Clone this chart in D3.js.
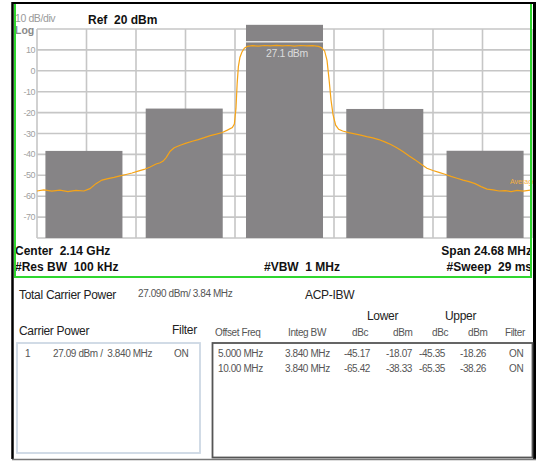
<!DOCTYPE html>
<html>
<head>
<meta charset="utf-8">
<script src="https://cdn.jsdelivr.net/npm/d3@7"></script>
<style>
  body { margin: 0; background: #fff; }
  svg { display: block; font-family: "Liberation Sans", Arial, sans-serif; }
</style>
</head>
<body>
<div id="chart"></div>
<script>
// Spectrum settings
const spanMHz = 24.68;
const refLevel = 20;
const dbPerDiv = 10;
const yTickLabels = [10, 0, -10, -20, -30, -40, -50, -60, -70];

// ACP integration bands (offset MHz) and measured power (dBm)
const bandOffsets = [-10, -5, 0, 5, 10];
const bandPowers = [-38.33, -18.07, 27.09, -18.26, -38.26];
const bandWidth = 3.84;

// Trace (offset MHz, dBm)
const traceFreq = [-12.34, -12.0, -11.6, -11.2, -10.8, -10.4, -10.0, -9.7, -9.4, -9.1,
  -8.8, -8.5, -8.2, -7.9, -7.6, -7.3, -7.0, -6.7, -6.4, -6.2, -6.05, -5.9, -5.7, -5.5,
  -5.2, -4.9, -4.6, -4.3, -4.0, -3.7, -3.4, -3.1, -2.85, -2.6, -2.5, -2.42, -2.36, -2.3,
  -2.22, -2.12, -2.0, -1.85, -1.6, -1.3, -1.0, -0.7, -0.4, -0.1, 0.2, 0.5, 0.8, 1.1, 1.4,
  1.7, 1.85, 2.0, 2.12, 2.22, 2.32, 2.42, 2.55, 2.7, 2.9, 3.2, 3.5, 3.8, 4.1, 4.4, 4.7,
  5.0, 5.3, 5.6, 5.9, 6.2, 6.5, 6.8, 7.1, 7.4, 7.7, 8.0, 8.3, 8.6, 8.9, 9.2, 9.5, 9.8,
  10.1, 10.4, 10.7, 11.0, 11.3, 11.6, 11.9, 12.34];
const traceLevel = [-57.5, -57.0, -57.6, -57.1, -57.8, -57.2, -57.5, -56.4, -54.0, -52.3,
  -51.6, -51.0, -50.3, -49.6, -48.9, -48.0, -47.2, -46.0, -44.6, -44.0, -43.2, -41.5, -38.5, -36.8,
  -35.6, -34.6, -33.7, -32.9, -32.0, -31.0, -30.3, -29.5, -28.4, -27.2, -25.5, -18, -6, 2,
  6.5, 9.0, 10.8, 11.7, 12.0, 11.8, 12.1, 11.9, 12.2, 11.9, 12.1, 11.8, 12.1, 11.9, 12.0,
  11.7, 11.0, 9.5, 5, -4, -14, -21, -26, -28, -28.8, -29.6, -30.2, -30.8, -31.5, -32.1, -32.9,
  -34.0, -35.3, -36.8, -38.6, -40.6, -42.5, -44.6, -46.6, -47.7, -48.6, -49.5, -50.5, -51.4, -52.3, -53.0, -54.0, -55.4,
  -56.6, -57.0, -57.5, -57.3, -57.8, -57.2, -57.6, -57.0];

// Result tables
const carrierRow = ['1', '27.09 dBm /  3.840 MHz', 'ON'];
const offsetFreqs = ['5.000 MHz', '10.00 MHz'];
const integBWs = ['3.840 MHz', '3.840 MHz'];
const lowerDbc = ['-45.17', '-65.42'];
const lowerDbm = ['-18.07', '-38.33'];
const upperDbc = ['-45.35', '-65.35'];
const upperDbm = ['-18.26', '-38.26'];
const filters = ['ON', 'ON'];

const width = 537, height = 461;
const plot = { left: 37, right: 532, top: 29, bottom: 238 };

const svg = d3.select('#chart').append('svg')
  .attr('width', width)
  .attr('height', height);

const x = d3.scaleLinear()
  .domain([-spanMHz / 2, spanMHz / 2])
  .range([plot.left, plot.right]);

const y = d3.scaleLinear()
  .domain([refLevel - 10 * dbPerDiv, refLevel])
  .range([plot.bottom, plot.top]);

const gray = '#868486';
const gridColor = '#c6c6c6';

// Grid
const gridG = svg.append('g');
gridG.selectAll('.vgrid')
  .data(d3.range(11))
  .enter().append('line')
  .attr('x1', i => x(-spanMHz / 2 + i * spanMHz / 10))
  .attr('x2', i => x(-spanMHz / 2 + i * spanMHz / 10))
  .attr('y1', plot.top)
  .attr('y2', plot.bottom)
  .attr('stroke', gridColor)
  .attr('stroke-width', 1.6);

gridG.selectAll('.hgrid')
  .data(d3.range(refLevel - 10 * dbPerDiv, refLevel + 1, dbPerDiv))
  .enter().append('line')
  .attr('x1', plot.left)
  .attr('x2', plot.right)
  .attr('y1', d => y(d))
  .attr('y2', d => y(d))
  .attr('stroke', gridColor)
  .attr('stroke-width', 1.6);

// Y labels
svg.append('g')
  .selectAll('text')
  .data(yTickLabels)
  .enter().append('text')
  .attr('x', 35)
  .attr('y', d => y(d) + 3)
  .attr('text-anchor', 'end')
  .attr('font-size', '9px')
  .attr('letter-spacing', '-0.5')
  .attr('fill', '#a0a0a0')
  .text(d => d);

// ACP bars (main channel clipped just above the graticule)
const clipTop = 22;
svg.append('g')
  .selectAll('rect')
  .data(bandOffsets.map((f, i) => ({ f, p: bandPowers[i] })))
  .enter().append('rect')
  .attr('x', d => x(d.f - bandWidth / 2))
  .attr('width', d => x(d.f + bandWidth / 2) - x(d.f - bandWidth / 2))
  .attr('y', d => y(Math.min(d.p, clipTop)))
  .attr('height', d => plot.bottom - y(Math.min(d.p, clipTop)))
  .attr('fill', gray);

svg.append('line')
  .attr('x1', x(-bandWidth / 2))
  .attr('x2', x(bandWidth / 2))
  .attr('y1', y(13.9))
  .attr('y2', y(13.9))
  .attr('stroke', '#e6e6e6')
  .attr('stroke-width', 1.6);

svg.append('text')
  .attr('x', x(0.12))
  .attr('y', 57)
  .attr('text-anchor', 'middle')
  .attr('font-size', '10.5px')
  .attr('letter-spacing', '-0.4')
  .attr('fill', '#dcdcdc')
  .text('27.1 dBm');

// Trace
const line = d3.line()
  .x(d => x(d[0]))
  .y(d => y(d[1]));

svg.append('path')
  .datum(traceFreq.map((f, i) => [f, traceLevel[i]]))
  .attr('d', line)
  .attr('fill', 'none')
  .attr('stroke', '#f6a417')
  .attr('stroke-width', 1.2);

svg.append('text')
  .attr('x', 510)
  .attr('y', 184)
  .attr('font-size', '7px')
  .attr('fill', '#f6b040')
  .text('Average');

// Header / footer text of the screen
const textOpts = (sel, size, weight, fill) => sel
  .attr('font-size', size)
  .attr('font-weight', weight)
  .attr('fill', fill);

textOpts(svg.append('text').attr('x', 15).attr('y', 22).attr('letter-spacing', '-0.4').text('10 dB/div'), '10.5px', 'normal', '#9a9a9a');
textOpts(svg.append('text').attr('x', 15).attr('y', 34).text('Log'), '10.5px', 'bold', '#8a8a8a');
textOpts(svg.append('text').attr('x', 88).attr('y', 24).attr('xml:space', 'preserve').text('Ref  20 dBm'), '12px', 'bold', '#111');

textOpts(svg.append('text').attr('x', 15).attr('y', 255).attr('xml:space', 'preserve').text('Center  2.14 GHz'), '12px', 'bold', '#111');
textOpts(svg.append('text').attr('x', 15).attr('y', 271).attr('xml:space', 'preserve').text('#Res BW  100 kHz'), '12px', 'bold', '#111');
textOpts(svg.append('text').attr('x', 302).attr('y', 271).attr('text-anchor', 'middle').attr('xml:space', 'preserve').text('#VBW  1 MHz'), '12px', 'bold', '#111');
textOpts(svg.append('text').attr('x', 532).attr('y', 255).attr('text-anchor', 'end').text('Span 24.68 MHz'), '12px', 'bold', '#111');
textOpts(svg.append('text').attr('x', 532).attr('y', 271).attr('text-anchor', 'end').attr('xml:space', 'preserve').text('#Sweep  29 ms'), '12px', 'bold', '#111');

// Green graticule frame
const green = '#2fd62f';
svg.append('path')
  .attr('d', `M15,4 V277 H531 V4`)
  .attr('fill', 'none')
  .attr('stroke', green)
  .attr('stroke-width', 2);

// Outer black frame
svg.append('path')
  .attr('d', `M12.5,2 V459`)
  .attr('stroke', '#000').attr('stroke-width', 2.5);
svg.append('path')
  .attr('d', `M534.5,2 V459`)
  .attr('stroke', '#000').attr('stroke-width', 3);
svg.append('path')
  .attr('d', `M12,3 H536`)
  .attr('stroke', '#000').attr('stroke-width', 2);
svg.append('path')
  .attr('d', `M12,459.5 H536`)
  .attr('stroke', '#777').attr('stroke-width', 1.5);

// Lower measurement panel
const small = (xp, yp, t, anchor) => svg.append('text')
  .attr('x', xp).attr('y', yp)
  .attr('text-anchor', anchor || 'start')
  .attr('font-size', '10px')
  .attr('letter-spacing', '-0.4')
  .attr('fill', '#555')
  .attr('xml:space', 'preserve')
  .text(t);

const label = (xp, yp, t) => textOpts(svg.append('text').attr('x', xp).attr('y', yp)
  .attr('letter-spacing', '-0.3').text(t), '12px', 'normal', '#222');

label(19, 299, 'Total Carrier Power');
small(138, 297, '27.090 dBm/ 3.84 MHz');
label(305, 299, 'ACP-IBW');
label(367, 320, 'Lower');
label(445, 320, 'Upper');
label(19, 335, 'Carrier Power');
label(172, 334, 'Filter');

const headerX = [215, 288, 352, 393, 432, 468, 505];
const headers = ['Offset Freq', 'Integ BW', 'dBc', 'dBm', 'dBc', 'dBm', 'Filter'];
headers.forEach((h, i) => small(headerX[i], 336, h));

// Boxes
svg.append('rect')
  .attr('x', 17).attr('y', 343).attr('width', 183).attr('height', 110)
  .attr('fill', 'none').attr('stroke', '#cdd8e4').attr('stroke-width', 1.8);
svg.append('rect')
  .attr('x', 212.5).attr('y', 343).attr('width', 320).attr('height', 114.5)
  .attr('fill', 'none').attr('stroke', '#555').attr('stroke-width', 1.8);

small(25, 357, carrierRow[0]);
small(53, 357, carrierRow[1]);
small(174, 357, carrierRow[2]);

const colX = [218, 285, 344, 386, 419, 460, 509];
const columns = [offsetFreqs, integBWs, lowerDbc, lowerDbm, upperDbc, upperDbm, filters];
columns.forEach((col, c) => {
  col.forEach((v, r) => small(colX[c], 357 + r * 15, v));
});
</script>
</body>
</html>
